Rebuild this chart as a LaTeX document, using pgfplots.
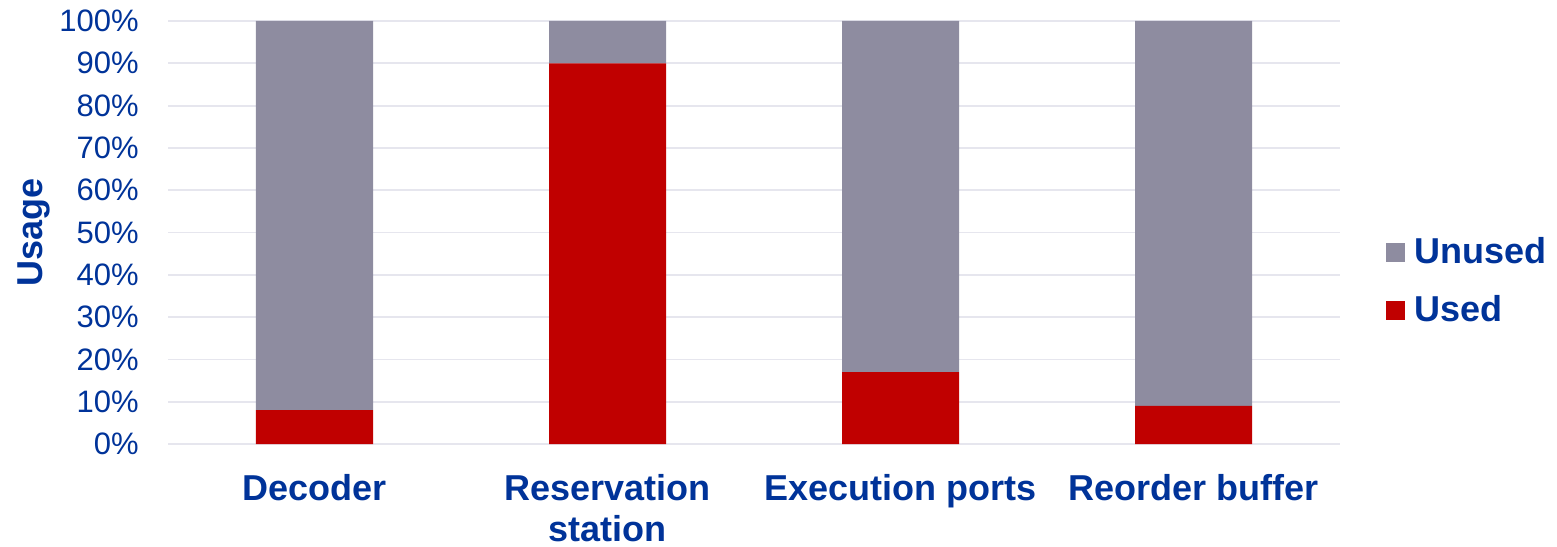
\documentclass[border=0pt]{standalone}
\usepackage{pgfplots}
\pgfplotsset{compat=1.18}
\usepackage{fontspec}
\setmainfont{Liberation Sans}
\definecolor{usedred}{HTML}{C00000}
\definecolor{unusedgray}{HTML}{8E8CA0}
\definecolor{txtblue}{HTML}{003399}
\definecolor{gridc}{HTML}{E6E6EE}
\begin{document}
\begin{tikzpicture}
\begin{axis}[
  at={(0pt,0pt)}, anchor=south west,
  scale only axis,
  width=586pt, height=211.5pt,
  ybar stacked,
  bar width=58.5pt,
  xmin=-0.5, xmax=3.5,
  ymin=0, ymax=100,
  xtick={0,1,2,3},
  xticklabels={Decoder,{Reservation\\station},Execution ports,Reorder buffer},
  ytick={0,10,...,100},
  yticklabel={\pgfmathprintnumber{\tick}\%},
  /pgf/number format/assume math mode=true,
  axis line style={draw=none},
  major tick length=0pt,
  ymajorgrids,
  grid style={gridc, line width=0.9pt},
  xticklabel style={font=\fontsize{18}{20.5}\selectfont\bfseries, text=txtblue, align=center, inner sep=0pt, anchor=north, yshift=-15pt},
  yticklabel style={font=\fontsize{15.5}{18}\selectfont, text=txtblue, inner sep=0pt, anchor=east, xshift=-14.5pt},
  ylabel={Usage},
  ylabel style={at={([xshift=-75.5pt]axis description cs:0,0.5)}, anchor=north, inner sep=0pt,
    font=\fontsize{18}{20}\selectfont\bfseries, text=txtblue},
  reverse legend,
  legend cell align=left,
  legend style={draw=none, fill=none, at={(axis description cs:1,0.385)}, anchor=west, xshift=20pt,
    font=\fontsize{18}{20}\selectfont\bfseries, text=txtblue,
    row sep=12.5pt,
    nodes={inner sep=1pt},
    /tikz/every odd column/.append style={column sep=3.5pt}},
  legend image code/.code={\fill[#1] (0pt,-4.75pt) rectangle (9.5pt,4.75pt);},
]
\addplot[fill=usedred, draw=none] coordinates {(0,8) (1,90) (2,17) (3,9)};
\addlegendentry{Used}
\addplot[fill=unusedgray, draw=none] coordinates {(0,92) (1,10) (2,83) (3,91)};
\addlegendentry{Unused}
\end{axis}
\pgfresetboundingbox
\useasboundingbox (-84pt,-51pt) rectangle (694.5pt,222pt);
\end{tikzpicture}
\end{document}
